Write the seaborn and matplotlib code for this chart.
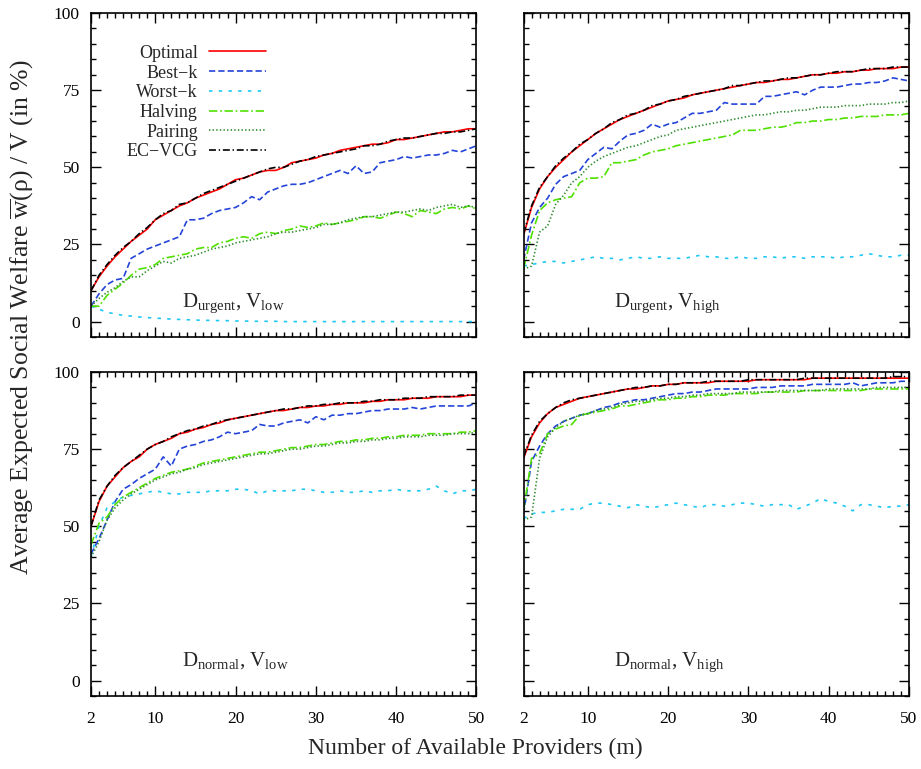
import matplotlib
matplotlib.use("Agg")
import matplotlib.pyplot as plt
from matplotlib.ticker import MultipleLocator, FixedLocator
import seaborn as sns

#   number of available providers
m = list(range(2, 51))

methods = ["Optimal", "Best\u2212k", "Worst\u2212k", "Halving", "Pairing", "EC\u2212VCG"]

#   D_urgent, V_low
ul_optimal = [10, 14.5, 18, 21, 23.5, 26, 28, 30, 33,
              34.5, 36, 37.5, 38.5, 40, 41, 42, 43, 44.5, 46,
              46.5, 47.5, 48.5, 49, 49, 50, 51.5, 52, 52.5, 53,
              54, 54.5, 55.5, 56, 56.5, 57, 57.5, 57.5, 58, 59,
              59, 59.5, 60, 60.5, 61, 61.5, 61.5, 62, 62.5, 62.5]
ul_best = [5, 9, 12, 13.5, 14, 20.5, 22, 23.5, 24.5,
           25.5, 26.5, 27.5, 33, 33, 33.5, 35, 36, 36.5, 37,
           38.5, 40.5, 39.5, 42, 43, 44, 44.5, 44.5, 45, 46,
           47, 48, 49, 48, 50.5, 48, 48.5, 51.5, 52, 52.5,
           53.5, 53, 53.5, 54, 54, 54.5, 55.5, 55, 56, 57]
ul_worst = [5, 4, 3, 2.5, 2, 1.8, 1.5, 1.3, 1.1,
            1, 0.8, 0.7, 0.6, 0.5, 0.4, 0.4, 0.3, 0.3, 0.2,
            0.2, 0.1, 0.1, 0.1, 0.1, 0, 0, 0, 0, 0,
            0, 0, 0, 0, 0, 0, 0, 0, 0, 0,
            0, 0, 0, 0, 0, 0, 0, 0, 0, 0]
ul_halving = [5, 5, 8.5, 10.5, 12.5, 15, 17, 17.5, 18.5,
              20.5, 21, 21.5, 22, 23.5, 24, 24, 25.5, 26, 27,
              27.5, 27, 28.5, 29, 28.5, 29.5, 30, 31, 30.5, 31,
              32, 31.5, 32, 32.5, 33, 34, 34, 33.5, 34.5, 35.5,
              35, 34, 36, 35.5, 35, 36.5, 37, 36.5, 37.5, 36.5]
ul_pairing = [5, 7.5, 9.5, 11, 13, 14.5, 14.5, 16.5, 18,
              19.5, 19, 20.5, 21, 21.5, 22.5, 23.5, 24, 24.5, 25.5,
              26, 26.5, 27, 27.5, 28.5, 29, 29, 29.5, 30, 30.5,
              31.5, 31.5, 32, 33, 33.5, 34, 34, 34.5, 35, 35.5,
              35.5, 36, 36.5, 36, 37, 37.5, 38, 37, 37.5, 37]
ul_ecvcg = [10, 15, 18.5, 21.5, 24, 26, 28.5, 30.5, 33,
            35, 36, 38, 38.5, 40, 41.5, 42.5, 43.5, 44.5, 45.5,
            46.5, 47.5, 48.5, 49.5, 50, 50, 51, 52, 52.5, 53.5,
            54, 54.5, 55, 55.5, 56, 57, 57, 57.5, 58.5, 59,
            59.5, 59.5, 60, 60.5, 61, 61, 61.5, 61.5, 62, 62.5]

#   D_urgent, V_high
uh_optimal = [28, 37, 43, 47, 50, 52.5, 55, 57, 59,
              61, 62.5, 64, 65.5, 66.5, 67.5, 68.5, 69.5, 70.5, 71.5,
              72, 72.5, 73.5, 74, 74.5, 75, 75.5, 76, 76.5, 77,
              77.5, 77.5, 78, 78.5, 78.5, 79, 79.5, 80, 80, 80.5,
              80.5, 81, 81, 81.5, 81.5, 82, 82, 82, 82.5, 82.5]
uh_best = [20, 32, 37, 40, 44.5, 47, 48, 49, 52.5,
           54.5, 56.5, 56, 58.5, 60.5, 61, 62, 64, 63, 64,
           64.5, 66, 67.5, 67.5, 68, 68.5, 71, 70.5, 70.5, 70.5,
           70.5, 73, 73, 73.5, 74, 74.5, 73.5, 75, 76, 76,
           76, 76.5, 77, 77, 77.5, 77.5, 78, 79, 78.5, 78]
uh_worst = [18, 18.5, 19, 19.5, 19.5, 19, 19.5, 20, 20.5,
            21, 20.5, 20.5, 20, 20.5, 21, 20.5, 20.5, 21, 20.5,
            20.5, 20.5, 21, 21.5, 21, 21, 20.5, 20.5, 21, 20.5,
            20.5, 21, 21, 20.5, 21, 21, 20.5, 21, 21, 21,
            20.5, 21, 21, 21.5, 22, 21.5, 21, 21, 21.5, 21.5]
uh_halving = [17, 28, 36, 38.5, 39.5, 40, 40.5, 45, 46.5,
              46.5, 47, 51.5, 51.5, 52, 52.5, 54, 55, 55.5, 56,
              57, 57.5, 58, 58.5, 59, 59.5, 60, 60.5, 62, 62,
              62, 62.5, 63, 63, 63.5, 64.5, 64.5, 65, 65, 65.5,
              65.5, 66, 66, 66.5, 66.5, 66.5, 67, 67, 67, 67.5]
uh_pairing = [17, 18, 29, 31, 38, 41, 45, 47, 50,
              52, 53.5, 54.5, 55.5, 56.5, 57, 58, 59, 60, 60.5,
              62, 62.5, 63, 63.5, 64, 64.5, 65, 65.5, 66, 66.5,
              67, 67, 67.5, 68, 68, 68.5, 68.5, 69, 69.5, 69.5,
              69.5, 70, 70, 70, 70.5, 70.5, 70.5, 71, 71, 71.5]
uh_ecvcg = [28.5, 37.5, 43.5, 47, 50.5, 53, 55, 57.5, 59,
            61, 62.5, 64.5, 65.5, 67, 67.5, 68.5, 70, 70.5, 71.5,
            72, 73, 73.5, 74, 74.5, 75, 75.5, 76.5, 76.5, 77,
            77.5, 78, 78, 78.5, 79, 79, 79.5, 80, 80, 80.5,
            81, 81, 81, 81.5, 82, 82, 82, 82.5, 82.5, 82.5]

#   D_normal, V_low
nl_optimal = [50, 58, 63, 66, 69, 71, 72.5, 75, 76.5,
              77.5, 78.5, 80, 80.5, 81.5, 82, 83, 83.5, 84.5, 85,
              85.5, 86, 86.5, 87, 87.5, 87.5, 88, 88.5, 88.5, 89,
              89, 89.5, 89.5, 90, 90, 90, 90.5, 90.5, 91, 91,
              91, 91.5, 91.5, 91.5, 92, 92, 92, 92, 92.5, 92.5]
nl_best = [41, 46, 52, 58, 62, 63.5, 65.5, 67, 68.5,
           72.5, 69.5, 75, 76, 76.5, 77.5, 78, 79, 80.5, 80,
           80.5, 81, 83, 82.5, 82.5, 83.5, 84, 84.5, 83.5, 85.5,
           84.5, 86, 86, 86.5, 86.5, 87, 87.5, 87.5, 88, 88,
           88, 88.5, 88, 88.5, 89, 89, 89, 89, 89, 90]
nl_worst = [40, 50, 56, 58, 59.5, 60, 60.5, 61, 61.5,
            61, 60.5, 60.5, 61, 61, 61, 61.5, 61.5, 61.5, 62,
            62, 61.5, 60.5, 61.5, 61.5, 61.5, 61.5, 62, 62, 61.5,
            61, 61, 61.5, 61, 61, 61.5, 61, 61.5, 61.5, 62,
            61.5, 61.5, 61.5, 62, 63, 61.5, 60.5, 61.5, 61.5, 62]
nl_halving = [44, 51, 53, 57, 59.5, 61, 62.5, 64, 65.5,
              66.5, 67.5, 68, 68.5, 69.5, 70.5, 71, 71.5, 72, 72.5,
              73, 73.5, 74, 74, 74.5, 75, 75.5, 75.5, 76, 76.5,
              76.5, 77, 77.5, 77.5, 78, 78, 78.5, 78.5, 79, 79,
              79.5, 79.5, 79.5, 80, 80, 80, 80, 80.5, 80.5, 81]
nl_pairing = [40, 45, 52, 56, 58.5, 60.5, 62, 63.5, 65,
              66, 67, 67.5, 68.5, 69, 70, 70.5, 71, 71.5, 72,
              72.5, 73, 73.5, 73.5, 74, 74.5, 75, 75, 75.5, 76,
              76, 76.5, 77, 77, 77.5, 77.5, 78, 78, 78.5, 78.5,
              79, 79, 79, 79.5, 79.5, 79.5, 80, 80, 80, 80.5]
nl_ecvcg = [50, 58.5, 63, 66.5, 69, 71, 73, 75, 76.5,
            77.5, 79, 80, 81, 81.5, 82.5, 83, 84, 84.5, 85,
            85.5, 86, 86.5, 87, 87.5, 88, 88, 88.5, 89, 89,
            89.5, 89.5, 90, 90, 90, 90.5, 90.5, 91, 91, 91,
            91.5, 91.5, 91.5, 92, 92, 92, 92, 92.5, 92.5, 92.5]

#   D_normal, V_high
nh_optimal = [72, 79, 83.5, 86.5, 88.5, 89.5, 90.5, 91.5, 92,
              92.5, 93, 93.5, 94, 94.5, 94.5, 95, 95.5, 95.5, 96,
              96, 96.5, 96.5, 96.5, 96.5, 97, 97, 97, 97, 97,
              97.5, 97.5, 97.5, 97.5, 97.5, 97.5, 97.5, 98, 98, 98,
              98, 98, 98, 98, 98, 98, 98, 98, 98, 98]
nh_best = [54, 71, 76, 80, 82.5, 84, 85, 86, 86.5,
           87.5, 88.5, 89, 90, 90.5, 91, 91, 91.5, 92, 92.5,
           93, 93, 93.5, 93.5, 94, 94.5, 94.5, 94.5, 94.5, 94.5,
           95, 95, 95, 95.5, 95.5, 95.5, 95.5, 96, 96, 96,
           96, 96, 96.5, 95.5, 96, 96.5, 96.5, 96.5, 97, 97]
nh_worst = [52.5, 54, 54.5, 54.5, 55, 55.5, 55.5, 55.5, 57,
            57.5, 57.5, 57, 56.5, 56, 57, 56.5, 56, 56.5, 57,
            57.5, 57, 56.5, 56, 57, 57, 56.5, 57, 57.5, 57.5,
            57, 56.5, 57, 57, 57, 55.5, 56.5, 57.5, 59, 58,
            57.5, 56.5, 55, 57, 57, 56.5, 56, 56.5, 56.5, 57]
nh_halving = [55, 72, 73.5, 80, 81.5, 82.5, 83, 86, 86.5,
              87, 87.5, 88, 89, 89, 89.5, 90, 90.5, 91, 91,
              91.5, 91.5, 92, 92, 92.5, 92.5, 92.5, 93, 93, 93,
              93, 93.5, 93.5, 93.5, 93.5, 93.5, 94, 94, 94, 94,
              94, 94, 94, 94, 94.5, 94.5, 94.5, 94.5, 94.5, 94.5]
nh_pairing = [52, 53, 72, 79, 82, 84, 85, 86, 86.5,
              87.5, 88, 88.5, 89.5, 90, 90.5, 90.5, 91, 91.5, 91.5,
              92, 92, 92.5, 92.5, 93, 93, 93, 93, 93.5, 93.5,
              93.5, 93.5, 93.5, 94, 94, 94, 94, 94, 94, 94.5,
              94.5, 94.5, 94.5, 94.5, 94.5, 95, 95, 95, 95, 95]
nh_ecvcg = [72.5, 79.5, 84, 86.5, 88.5, 90, 91, 91.5, 92,
            92.5, 93, 93.5, 94, 94.5, 95, 95, 95.5, 95.5, 96,
            96, 96.5, 96.5, 96.5, 97, 97, 97, 97, 97, 97.5,
            97.5, 97.5, 97.5, 97.5, 97.5, 97.5, 98, 98, 98, 98,
            98, 98, 98, 98, 98, 98, 98, 98.5, 98.5, 98.5]

panels = [
    ("urgent", "low", [ul_optimal, ul_best, ul_worst, ul_halving, ul_pairing, ul_ecvcg]),
    ("urgent", "high", [uh_optimal, uh_best, uh_worst, uh_halving, uh_pairing, uh_ecvcg]),
    ("normal", "low", [nl_optimal, nl_best, nl_worst, nl_halving, nl_pairing, nl_ecvcg]),
    ("normal", "high", [nh_optimal, nh_best, nh_worst, nh_halving, nh_pairing, nh_ecvcg]),
]

colors = ["#ff0000", "#2444d8", "#1ec8f5", "#50e000", "#2e8b2e", "#000000"]
styles = ["-", (0, (4.5, 2.2)), (0, (2.5, 4.5)), (0, (6, 2, 1.2, 2)), (0, (1, 1.6)), (0, (5, 2, 1, 2))]

sns.set_theme(style="ticks")
plt.rcParams["font.family"] = ["Liberation Serif", "DejaVu Serif"]
plt.rcParams["mathtext.fontset"] = "custom"
plt.rcParams["mathtext.rm"] = "Liberation Serif"
plt.rcParams["mathtext.it"] = "Liberation Serif:italic"
plt.rcParams["lines.scale_dashes"] = False

fig, axes = plt.subplots(2, 2, figsize=(9.21, 7.69), dpi=100, sharex=True, sharey=True)
fig.subplots_adjust(left=0.0988, right=0.987, top=0.983, bottom=0.095,
                    wspace=0.122, hspace=0.108)

for ax, (d, v, series) in zip(axes.flat, panels):
    for name, vals, c, ls in zip(methods, series, colors, styles):
        sns.lineplot(x=m, y=vals, ax=ax, color=c, linestyle=ls, linewidth=1.2,
                     label=name, legend=False, errorbar=None)
    ax.set_xlim(2, 50)
    ax.set_ylim(-5, 100)
    ax.xaxis.set_major_locator(FixedLocator([2, 10, 20, 30, 40, 50]))
    ax.xaxis.set_minor_locator(MultipleLocator(1))
    ax.yaxis.set_major_locator(MultipleLocator(25))
    ax.yaxis.set_minor_locator(MultipleLocator(5))
    ax.tick_params(which="both", direction="in", top=True, right=True,
                   labelsize=12.5, colors="black", width=1)
    ax.tick_params(which="major", length=7)
    ax.tick_params(which="minor", length=3.5)
    ax.tick_params(axis="y", which="major", pad=8)
    ax.tick_params(axis="x", which="major", pad=11)
    for s in ax.spines.values():
        s.set_linewidth(1.2)
        s.set_color("black")
    ax.set_xlabel("")
    ax.set_ylabel("")
    ax.text(13.3, 4.7, r"D$_{\mathrm{%s}}$, V$_{\mathrm{%s}}$" % (d, v),
            fontsize=15, ha="left", va="baseline")

leg = axes[0, 0].legend(loc="upper right", bbox_to_anchor=(0.455, 0.902),
                        frameon=False, markerfirst=False, fontsize=13,
                        handlelength=3.2, handletextpad=0.6, labelspacing=0.15,
                        borderpad=0, borderaxespad=0)

fig.text(0.516, 0.027, "Number of Available Providers (m)", ha="center", va="center", fontsize=17)
fig.text(0.024, 0.588, r"Average Expected Social Welfare $\overline{\mathrm{w}}$($\mathrm{\rho}$) / V (in %)",
         ha="center", va="center", rotation=90, fontsize=18.5)

fig.savefig("out.png", dpi=100)
